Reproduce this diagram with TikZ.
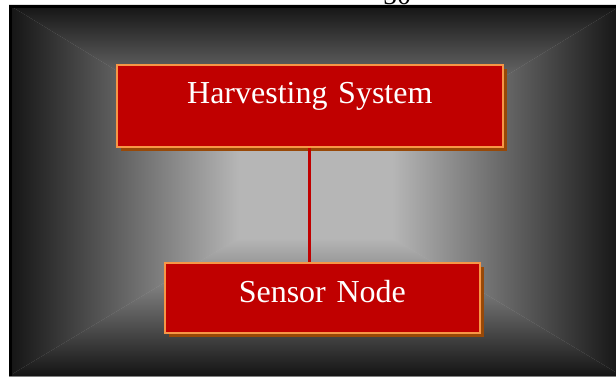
\documentclass[tikz,border=0pt]{standalone}
\usepackage{fontspec}
\setmainfont{Liberation Serif}
\usepackage{tikz}
\usetikzlibrary{shadows}

\definecolor{boxred}{HTML}{C00000}
\definecolor{boxorange}{HTML}{F79646}
\definecolor{shadowbrown}{HTML}{984807}
\definecolor{rimgray}{HTML}{141414}
\definecolor{coregray}{HTML}{B6B6B6}

% edge (top) to centre (bottom); the path covers 25bp..75bp
\pgfdeclareverticalshading{boxfade}{100bp}{color(0bp)=(coregray); color(37.5bp)=(coregray); color(75bp)=(rimgray); color(100bp)=(rimgray)}

\begin{document}
\begin{tikzpicture}[x=1pt, y=-1pt, line cap=butt, line join=miter,
    blockbox/.style={draw=boxorange, line width=1.6pt, fill=boxred, text=white,
        inner sep=0pt, align=center, anchor=north west,
        font=\fontsize{32pt}{36pt}\selectfont,
        drop shadow={shadow xshift=4pt, shadow yshift=-4pt, fill=shadowbrown, opacity=1}},
    link/.style={boxred, line width=3pt}]
    \useasboundingbox (0,0) rectangle (616,377);
    \clip (0,0) rectangle (616,377);

    % --- 1. Page number, cut by the top edge ---
    \node[anchor=base, font=\fontsize{28pt}{30pt}\selectfont] (pagenum) at (397,5) {50};

    % --- 2. Background with rectangular gradient ---
    \coordinate (c) at (315.5,192);
    \fill[coregray] (9,5) rectangle (622,376);
    \shade[shading=boxfade, shading angle=0] (9,5) -- (622,5) -- (c) -- cycle;
    \shade[shading=boxfade, shading angle=180] (9,376) -- (622,376) -- (c) -- cycle;
    \shade[shading=boxfade, shading angle=90] (9,5) -- (9,376) -- (c) -- cycle;
    \shade[shading=boxfade, shading angle=270] (622,5) -- (622,376) -- (c) -- cycle;
    \draw[black, line width=3pt] (10.5,6.5) -- (10.5,376);
    \draw[black, line width=3pt] (9,6.5) -- (622,6.5);
    \draw[gray, line width=1pt] (9,376.5) -- (616,376.5);

    % --- 3. The two blocks ---
    \node[blockbox, text width=386pt, text height=39pt, text depth=43pt] (harvest) at (116,64) {Harvesting System};
    \node[blockbox, text width=315pt, text height=40pt, text depth=30pt] (sensor) at (164,262) {Sensor Node};

    % --- 4. Connector ---
    \draw[link] (harvest.south) -- (harvest.south |- sensor.north);
\end{tikzpicture}
\end{document}
